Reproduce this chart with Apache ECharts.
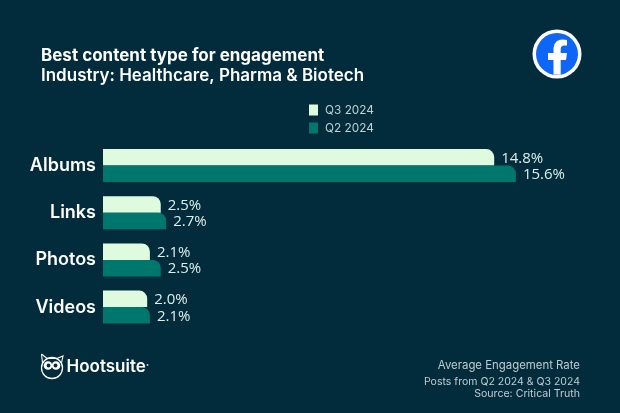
<!DOCTYPE html>
<html><head><meta charset="utf-8">
<style>html,body{margin:0;padding:0;background:#022b3c}#c{width:620px;height:413px}</style>
<script src="https://cdn.jsdelivr.net/npm/echarts@6/dist/echarts.min.js"></script>
</head><body><div id="c"></div>
<script>
const categories = ['Albums','Links','Photos','Videos'];
const q3Values = [14.8,2.5,2.1,2.0];
const q2Values = [15.6,2.7,2.5,2.1];
const seriesNames = ['Q3 2024','Q2 2024'];
const titleLines = ['Best content type for engagement','Industry: Healthcare, Pharma & Biotech'];
const FONT = 'Inter, "Open Sans", sans-serif';
const chart = echarts.init(document.getElementById('c'));
const lbl = {show:true,position:'right',distance:7,offset:[0,1],color:'#dcefe9',fontFamily:'"Open Sans"',fontSize:15,formatter:p=>p.value.toFixed(1)+'%'};
const foot = '#bccdd1';
chart.setOption({
  backgroundColor:'#022b3c',
  animation:false,
  title:{left:36,top:40.5,text:'{a|'+titleLines[0]+'}\n{b|'+titleLines[1]+'}',
    textStyle:{rich:{
      a:{fontFamily:FONT,fontSize:17,fontWeight:700,color:'#fff',lineHeight:20},
      b:{fontFamily:FONT,fontSize:17,fontWeight:600,color:'#fff',lineHeight:20}}}},
  legend:{orient:'vertical',left:304,top:99,itemWidth:9,itemHeight:11,itemGap:6,icon:'rect',
    textStyle:{color:'#bcd2d4',fontFamily:FONT,fontSize:11.8,padding:[0,0,0,2]},data:seriesNames},
  grid:{left:103,top:142,width:440,height:188.7},
  xAxis:{type:'value',min:0.37,max:16.6,show:false},
  yAxis:{type:'category',inverse:true,data:categories,axisLine:{show:false},axisTick:{show:false},
    axisLabel:{color:'#fff',fontFamily:'Inter',fontSize:18,fontWeight:600,margin:7,padding:[3,0,0,0]}},
  series:[
    {name:seriesNames[0],type:'bar',data:q3Values,barWidth:16.5,barGap:'0%',
     itemStyle:{color:'#defbdf',borderRadius:[0,8,0,0]},label:lbl},
    {name:seriesNames[1],type:'bar',data:q2Values,barWidth:16.5,barGap:'0%',
     itemStyle:{color:'#00776c',borderRadius:[0,8,0,0]},label:lbl}
  ],
  graphic:[
    {type:'circle',shape:{cx:557,cy:54,r:24.5},style:{fill:'#fff'}},
    {type:'circle',shape:{cx:557,cy:54,r:21},style:{fill:'#0d66f5'}},
    {type:'polygon',shape:{points:[[553.5,74.5],[553.5,60],[548,60],[548,53],[553.5,53],[553.5,48],[554.5,44],[557,41],[560,39.7],[563,39.5],[567,40],[567,45.5],[564,45.5],[562,46],[561,47.5],[560.7,49],[560.7,53],[567,53],[566,60],[560.7,60],[560.7,74.8]]},style:{fill:'#fff'}},
    {type:'text',x:66.5,y:366.5,style:{text:'Hootsuite',fill:'#fff',verticalAlign:'middle',font:'600 17px '+FONT}},
    {type:'circle',shape:{cx:147.5,cy:365,r:0.9},style:{fill:'#cfd8da'}},
    {type:'circle',shape:{cx:52,cy:368,r:10.5},style:{fill:'none',stroke:'#fff',lineWidth:1.3}},
    {type:'polyline',shape:{points:[[41.5,354],[47,358.5],[57,358.5],[63,356],[61.5,363]]},style:{fill:'none',stroke:'#fff',lineWidth:1.1}},
    {type:'line',shape:{x1:41.5,y1:354,x2:42.5,y2:363},style:{stroke:'#fff',lineWidth:1.1}},
    {type:'circle',shape:{cx:48,cy:365.5,r:4.3},style:{fill:'#fff'}},
    {type:'circle',shape:{cx:56,cy:365.5,r:4.3},style:{fill:'#fff'}},
    {type:'circle',shape:{cx:48.5,cy:365.5,r:1.9},style:{fill:'#022b3c'}},
    {type:'circle',shape:{cx:55.5,cy:365.5,r:1.9},style:{fill:'#022b3c'}},
    {type:'text',x:580,y:366,style:{text:'Average Engagement Rate',align:'right',verticalAlign:'middle',fill:foot,font:'11.4px '+FONT}},
    {type:'text',x:580,y:382,style:{text:'Posts from Q2 2024 & Q3 2024',align:'right',verticalAlign:'middle',fill:foot,font:'10.5px '+FONT}},
    {type:'text',x:580,y:393.5,style:{text:'Source: Critical Truth',align:'right',verticalAlign:'middle',fill:foot,font:'10.6px '+FONT}}
  ]
});
</script></body></html>
